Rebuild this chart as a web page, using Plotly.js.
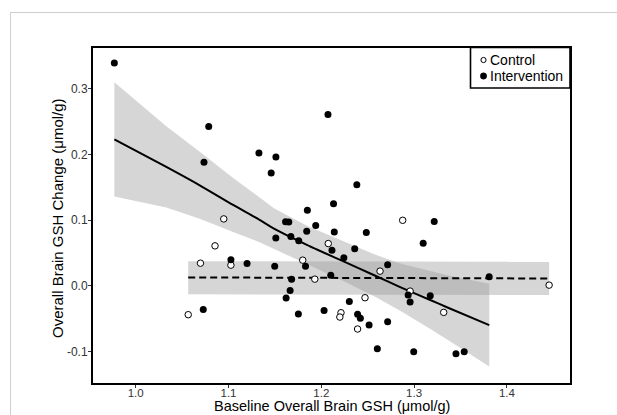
<!DOCTYPE html>
<html>
<head>
<meta charset="utf-8">
<script src="https://cdn.plot.ly/plotly-3.0.1.min.js"></script>
<style>
  html, body { margin: 0; padding: 0; background: #ffffff; overflow: hidden; }
  #frame { position: absolute; left: 10px; top: 12px; width: 800px; height: 600px;
           border: 1px solid #cfcfcf; z-index: 0; }
  #chart { position: absolute; left: 0; top: 0; width: 617px; height: 415px; z-index: 1; }
</style>
</head>
<body>
<div id="frame"></div>
<div id="chart"></div>
<script>
// ---------------- data ----------------
const controlX = [1.0949, 1.0855, 1.0698, 1.1026, 1.0566, 1.1800, 1.1930, 1.2075, 1.2471,
                  1.2212, 1.2200, 1.2391, 1.2633, 1.2877, 1.2957, 1.3319, 1.4455];
const controlY = [0.1018, 0.0608, 0.0344, 0.0314, -0.0440, 0.0390, 0.0101, 0.0643, -0.0182,
                  -0.0410, -0.0476, -0.0658, 0.0223, 0.0997, -0.0081, -0.0405, 0.0010];

const interventionX = [0.977, 1.0787, 1.0736, 1.1328, 1.1511, 1.146, 1.2072, 1.2383, 1.2132, 1.185,
                       1.1615, 1.1650, 1.194, 1.1843, 1.214, 1.2485, 1.151, 1.1672, 1.1757, 1.3217,
                       1.3098, 1.236, 1.2115, 1.2243, 1.1026, 1.12, 1.1498, 1.183, 1.2715, 1.2102,
                       1.168, 1.3809, 1.1664, 1.1621, 1.2936, 1.3174, 1.2957, 1.2302, 1.0728, 1.1753,
                       1.203, 1.2391, 1.2421, 1.2515, 1.2715, 1.2604, 1.2996, 1.3451, 1.354];
const interventionY = [0.339, 0.2425, 0.188, 0.202, 0.196, 0.1716, 0.2608, 0.154, 0.125, 0.115,
                       0.0975, 0.0972, 0.0916, 0.083, 0.082, 0.081, 0.0729, 0.075, 0.0684, 0.0977,
                       0.0648, 0.0562, 0.0542, 0.0425, 0.0395, 0.0339, 0.0299, 0.0299, 0.0319, 0.0162,
                       0.0101, 0.0137, -0.0071, -0.0187, -0.0142, -0.0152, -0.0248, -0.0238, -0.036, -0.043,
                       -0.0375, -0.0435, -0.0496, -0.0597, -0.0547, -0.0957, -0.1003, -0.1033, -0.1003];

// intervention fit curve and its confidence band
const fitX     = [0.977, 1.033, 1.069, 1.105, 1.134, 1.149, 1.185, 1.221, 1.257, 1.285, 1.318, 1.336, 1.381];
const fitY     = [0.223, 0.181, 0.153, 0.123, 0.100, 0.087, 0.062, 0.039, 0.016, -0.002, -0.022, -0.033, -0.060];
const fitUpper = [0.310, 0.243, 0.204, 0.164, 0.134, 0.118, 0.091, 0.069, 0.048, 0.034, 0.022, 0.016, 0.003];
const fitLower = [0.136, 0.119, 0.102, 0.082, 0.066, 0.056, 0.033, 0.009, -0.016, -0.038, -0.066, -0.082, -0.123];

// control fit line and its band
const ctlFitX     = [1.0566, 1.4455];
const ctlFitY     = [0.0127, 0.0111];
const ctlFitUpper = [0.0375, 0.0365];
const ctlFitLower = [-0.0130, -0.0140];

const xTickVals = [1.0, 1.1, 1.2, 1.3, 1.4];
const xTickText = ["1.0", "1.1", "1.2", "1.3", "1.4"];
const yTickVals = [-0.1, 0.0, 0.1, 0.2, 0.3];
const yTickText = ["-0.1", "0.0", "0.1", "0.2", "0.3"];

const legendLabels = ["Control", "Intervention"];
const xTitle = "Baseline Overall Brain GSH (\u03bcmol/g)";
const yTitle = "Overall Brain GSH Change (\u03bcmol/g)";

// ---------------- drawing ----------------
const FONT = "Liberation Sans, Arial, Helvetica, sans-serif";
const W = 617, H = 415;
const M = {l: 93, r: 47, t: 48, b: 32};
const pw = W - M.l - M.r, ph = H - M.t - M.b;
const px2paperX = px => (px - M.l) / pw;
const px2paperY = py => (H - M.b - py) / ph;

function polygon(xs, up, lo) {
  return {
    x: xs.concat(xs.slice().reverse()),
    y: up.concat(lo.slice().reverse())
  };
}
const ctlBand = polygon(ctlFitX, ctlFitUpper, ctlFitLower);
const intBand = polygon(fitX, fitUpper, fitLower);
const bandFill = "rgba(153,153,153,0.4)";

const traces = [
  {x: ctlBand.x, y: ctlBand.y, type: "scatter", mode: "lines", fill: "toself",
   fillcolor: bandFill, line: {width: 0, color: "rgba(0,0,0,0)"}, hoverinfo: "skip", showlegend: false},
  {x: intBand.x, y: intBand.y, type: "scatter", mode: "lines", fill: "toself",
   fillcolor: bandFill, line: {width: 0, color: "rgba(0,0,0,0)"}, hoverinfo: "skip", showlegend: false},
  {x: ctlFitX, y: ctlFitY, type: "scatter", mode: "lines",
   line: {color: "#000", width: 2, dash: "7px,4px"}, showlegend: false},
  {x: fitX, y: fitY, type: "scatter", mode: "lines", line: {color: "#000", width: 2, shape: "spline", smoothing: 0.6},
   showlegend: false},
  {x: controlX, y: controlY, type: "scatter", mode: "markers", name: legendLabels[0],
   marker: {symbol: "circle", size: 6.5, color: "#ffffff", line: {color: "#000", width: 1}}, showlegend: false},
  {x: interventionX, y: interventionY, type: "scatter", mode: "markers", name: legendLabels[1],
   marker: {symbol: "circle", size: 7, color: "#000", line: {width: 0}}, showlegend: false}
];

// legend drawn as shapes + text
const lgL = 470.5, lgR = 570, lgT = 47.5, lgB = 88;
const rowY = [60, 76];
const shapes = [
  {type: "rect", xref: "paper", yref: "paper", x0: px2paperX(lgL), x1: px2paperX(lgR),
   y0: px2paperY(lgB), y1: px2paperY(lgT), fillcolor: "#ffffff", line: {color: "#000", width: 1.6}, layer: "above"},
  {type: "circle", xref: "paper", yref: "paper", xsizemode: "pixel", ysizemode: "pixel",
   xanchor: px2paperX(483.5), yanchor: px2paperY(rowY[0]), x0: -2.6, x1: 2.6, y0: -2.6, y1: 2.6,
   fillcolor: "#ffffff", line: {color: "#000", width: 1}, layer: "above"},
  {type: "circle", xref: "paper", yref: "paper", xsizemode: "pixel", ysizemode: "pixel",
   xanchor: px2paperX(483.5), yanchor: px2paperY(rowY[1]), x0: -3.2, x1: 3.2, y0: -3.2, y1: 3.2,
   fillcolor: "#000", line: {color: "#000", width: 0.5}, layer: "above"}
];
const annotations = legendLabels.map((t, i) => ({
  text: t, xref: "paper", yref: "paper", x: px2paperX(489), y: px2paperY(rowY[i]),
  xanchor: "left", yanchor: "middle", showarrow: false, borderpad: 0,
  font: {family: FONT, size: 14, color: "#000"}
}));
// axis titles placed as text annotations
annotations.push({
  text: xTitle, xref: "paper", yref: "paper", x: 0.5, y: px2paperY(406),
  xanchor: "center", yanchor: "middle", showarrow: false, borderpad: 0,
  font: {family: FONT, size: 14.5, color: "#000"}
});
annotations.push({
  text: yTitle, xref: "paper", yref: "paper", x: px2paperX(57), y: px2paperY(218),
  xanchor: "center", yanchor: "middle", textangle: -90, showarrow: false, borderpad: 0,
  font: {family: FONT, size: 15, color: "#000"}
});

const layout = {
  width: W, height: H,
  margin: M,
  paper_bgcolor: "rgba(0,0,0,0)",
  plot_bgcolor: "rgba(0,0,0,0)",
  showlegend: false,
  font: {family: FONT, color: "#000"},
  xaxis: {
    range: [0.954, 1.468], showgrid: false, zeroline: false,
    showline: true, mirror: true, linecolor: "#000", linewidth: 2,
    ticks: "outside", ticklen: 3, tickwidth: 1, tickcolor: "#333",
    tickvals: xTickVals, ticktext: xTickText, ticklabelstandoff: -5,
    tickfont: {family: FONT, size: 11.5, color: "#333"},
    automargin: false
  },
  yaxis: {
    range: [-0.148, 0.362], showgrid: false, zeroline: false,
    showline: true, mirror: true, linecolor: "#000", linewidth: 2,
    ticks: "outside", ticklen: 3, tickwidth: 1, tickcolor: "#333",
    tickvals: yTickVals, ticktext: yTickText, ticklabelstandoff: -2,
    tickfont: {family: FONT, size: 12, color: "#333"},
    automargin: false
  },
  shapes: shapes,
  annotations: annotations
};

Plotly.newPlot("chart", traces, layout, {staticPlot: true, displayModeBar: false});
</script>
</body>
</html>
